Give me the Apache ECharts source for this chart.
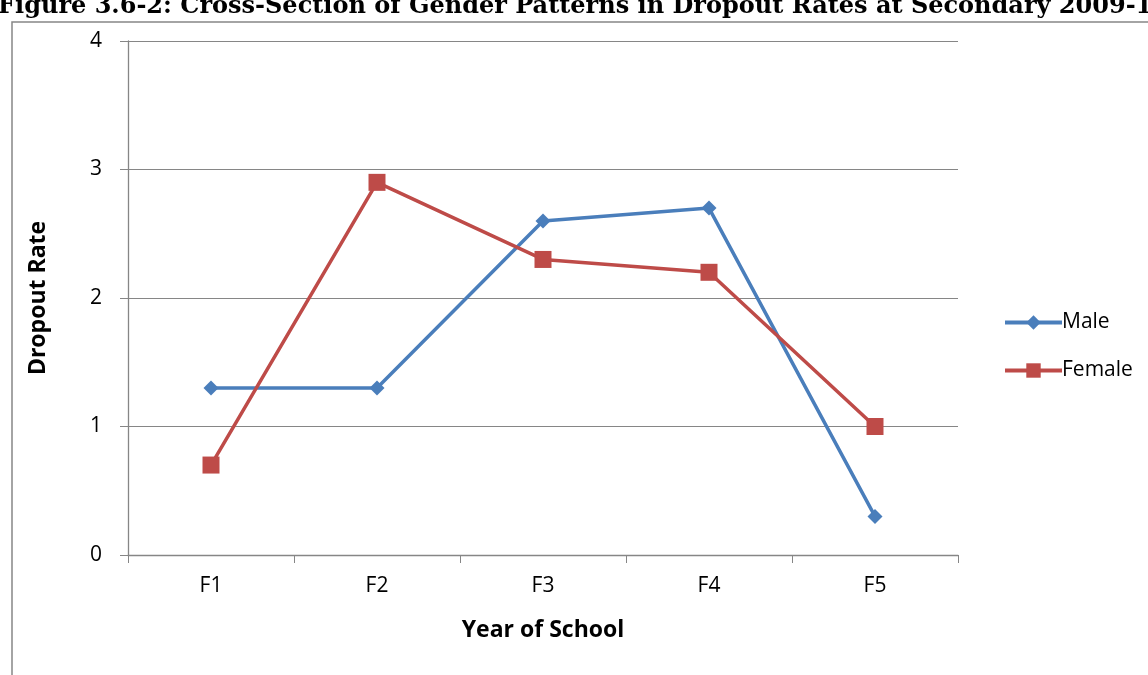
<!DOCTYPE html>
<html><head><meta charset="utf-8">
<script src="https://cdn.jsdelivr.net/npm/echarts@6/dist/echarts.min.js"></script>
<style>html,body{margin:0;padding:0;background:#fff}#c{width:1148px;height:675px}</style>
</head><body><div id="c"></div>
<script>
const titleText = 'Figure 3.6-2: Cross-Section of Gender Patterns in Dropout Rates at Secondary 2009-10';
const categories = ['F1','F2','F3','F4','F5'];
const maleValues = [1.3, 1.3, 2.6, 2.7, 0.3];
const femaleValues = [0.7, 2.9, 2.3, 2.2, 1.0];
const seriesNames = ['Male','Female'];
const yAxisName = 'Dropout Rate';
const xAxisName = 'Year of School';

const font = '"Open Sans", Lato, sans-serif';
const chart = echarts.init(document.getElementById('c'), null, {renderer:'canvas'});
chart.setOption({
  animation:false,
  backgroundColor:'#fff',
  graphic:[
    {type:'rect', shape:{x:12, y:22, width:1200, height:700}, style:{fill:'none', stroke:'#868686', lineWidth:1.5}, z:0},
    {type:'text', left:-2, top:-5, style:{text:titleText, font:'bold 24px "DejaVu Serif", serif', fill:'#000'}}
  ],
  grid:{left:128, right:190, top:41, bottom:120, containLabel:false},
  legend:{
    orient:'vertical', left:998, top:307, itemGap:27, itemWidth:57, itemHeight:18,
    lineStyle:{width:4},
    textStyle:{fontFamily:font, fontSize:21, color:'#000', padding:[0,0,0,-5]},
    data:seriesNames
  },
  xAxis:{
    type:'category', data:categories, boundaryGap:true,
    name:xAxisName, nameLocation:'middle', nameGap:64,
    nameTextStyle:{fontFamily:font, fontSize:23, fontWeight:'bold', color:'#000'},
    axisLine:{lineStyle:{color:'#868686', width:1.3}},
    axisTick:{show:true, length:8, lineStyle:{color:'#868686'}},
    axisLabel:{fontFamily:font, fontSize:21, color:'#000', margin:21}
  },
  yAxis:{
    type:'value', min:0, max:4, interval:1,
    name:yAxisName, nameLocation:'middle', nameGap:78,
    nameTextStyle:{fontFamily:font, fontSize:23, fontWeight:'bold', color:'#000'},
    axisLine:{show:true, lineStyle:{color:'#868686', width:1.3}},
    axisTick:{show:true, length:8, lineStyle:{color:'#868686'}},
    axisLabel:{fontFamily:font, fontSize:21, color:'#000', margin:26},
    splitLine:{lineStyle:{color:'#868686', width:1.2}}
  },
  series:[
    {name:seriesNames[0], type:'line', data:maleValues, symbol:'diamond', symbolSize:15,
     lineStyle:{color:'#4A7EBB', width:3.5}, itemStyle:{color:'#4A7EBB'}},
    {name:seriesNames[1], type:'line', data:femaleValues, symbol:'rect', symbolSize:17,
     lineStyle:{color:'#BE4B48', width:3.5}, itemStyle:{color:'#BE4B48'}}
  ]
});
</script></body></html>
